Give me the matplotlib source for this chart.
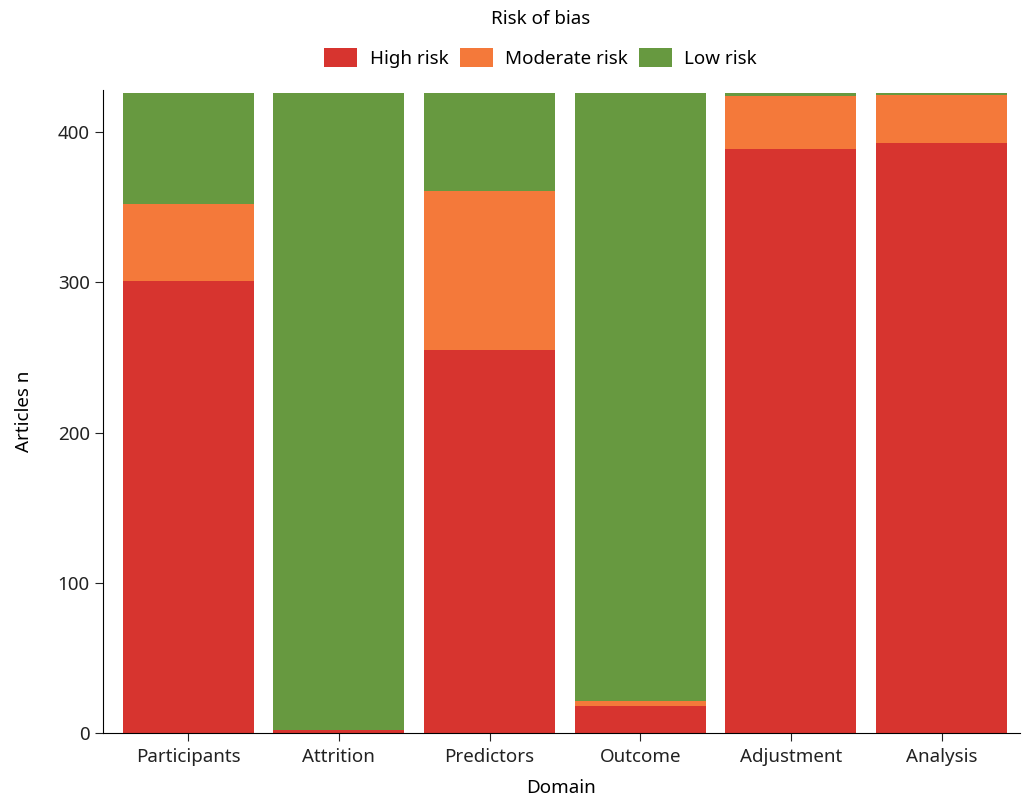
import matplotlib
matplotlib.use("Agg")
from matplotlib import pyplot as plt
import numpy as np

plt.rcParams['font.family'] = ['Noto Sans', 'DejaVu Sans']

domains = ["Participants", "Attrition", "Predictors", "Outcome", "Adjustment", "Analysis"]
high = [301, 2, 255, 18, 389, 393]
moderate = [51, 0, 106, 3, 35, 32]
low = [74, 424, 65, 405, 2, 1]

colors = {"High risk": "#d7342f", "Moderate risk": "#f4793a", "Low risk": "#679940"}

fig = plt.figure(figsize=(10.22, 8.02), dpi=100)
ax = fig.add_axes([103/1022, 1-733/802, 917/1022, 643/802])

x = np.arange(len(domains))
high = np.array(high)
moderate = np.array(moderate)
low = np.array(low)
ax.bar(x, high, width=0.87, color=colors["High risk"], label="High risk")
ax.bar(x, moderate, width=0.87, bottom=high, color=colors["Moderate risk"], label="Moderate risk")
ax.bar(x, low, width=0.87, bottom=high + moderate, color=colors["Low risk"], label="Low risk")

ax.set_xlim(-0.565, 5.52)
ax.set_ylim(0, 428)
ax.set_yticks([0, 100, 200, 300, 400])
ax.set_xticks(x)
ax.set_xticklabels(domains)
ax.spines['top'].set_visible(False)
ax.spines['right'].set_visible(False)
ax.tick_params(labelsize=13.5, colors="#222222", length=6)
ax.tick_params(axis='x', pad=5)
ax.set_xlabel("Domain", fontsize=13.5, labelpad=9)
ax.set_ylabel("Articles n", fontsize=13.5, labelpad=18)

leg = fig.legend(loc="upper center", bbox_to_anchor=(0.529, 1.008), ncol=3, frameon=False,
                 title="Risk of bias", fontsize=13.5, title_fontsize=13.5,
                 handlelength=1.76, handleheight=1.15, columnspacing=0.6, handletextpad=0.65)
leg._legend_box.sep = 14

fig.savefig("out.png", dpi=100)
